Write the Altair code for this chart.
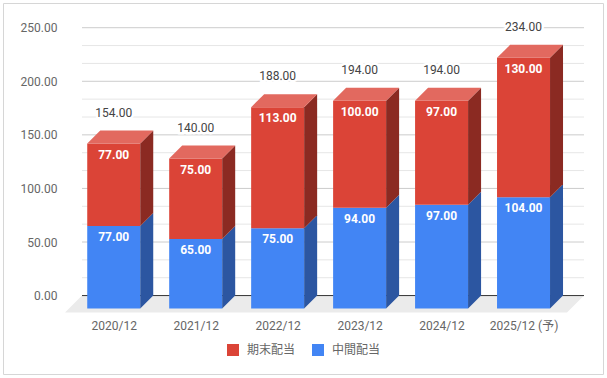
import altair as alt
import pandas as pd

CATS = ["2020/12", "2021/12", "2022/12", "2023/12", "2024/12", "2025/12 (予)"]
INTERIM = [77, 65, 75, 94, 97, 104]      # 中間配当
YEAREND = [77, 75, 113, 100, 97, 130]    # 期末配当
TOTAL = [154, 140, 188, 194, 194, 234]
SERIES = ["期末配当", "中間配当"]
Y_TICKS = [0, 50, 100, 150, 200, 250]

RED, RED_TOP, RED_SIDE = "#db4437", "#e2695f", "#8b2a22"
BLUE, BLUE_SIDE = "#4285f4", "#2c56a1"
FONT = "Roboto, 'Noto Sans CJK JP', sans-serif"

# geometry (styles)
W, H = 527, 300
PL, PT = 58, 17
X0, X1 = -0.68, 5.75
Y0, Y1 = -20, 260
PX_X = W / (X1 - X0)
PX_Y = H / (Y1 - Y0)
DEPTH = 13
DX = DEPTH / PX_X
DY = DEPTH / PX_Y
HW = 26.5 / PX_X
BACK_L = (82 - PL) / PX_X + X0
BACK_R = (584 - PL) / PX_X + X0
FLOOR_D = 17

front, side, top, tot = [], [], [], []
for i in range(len(CATS)):
    segs = [("中間配当", 0, INTERIM[i], INTERIM[i], BLUE_SIDE),
            ("期末配当", INTERIM[i], INTERIM[i] + YEAREND[i], YEAREND[i], RED_SIDE)]
    for s, b, t, v, sc in segs:
        front.append(dict(series=s, x=i - HW, x2=i + HW, y=b - DY, y2=t - DY,
                          cx=i, label=f"{v:.2f}"))
        sid = f"{i}-{s}"
        side.append(dict(id=sid, col=sc, sx=i + HW, lo=b - DY, hi=t - DY))
        side.append(dict(id=sid, col=sc, sx=i + HW + DX, lo=b, hi=t))
    top.append(dict(id=i, ty=TOTAL[i] - DY, tx=i - HW, tx2=i + HW))
    top.append(dict(id=i, ty=TOTAL[i], tx=i - HW + DX, tx2=i + HW + DX))
    tot.append(dict(cx=i, ty=TOTAL[i] - DY, label=f"{TOTAL[i]:.2f}"))

grid = []
for k in range(16):
    v = k * 50 / 3
    if k % 3 == 0:
        grid.append(dict(v=v, gl=BACK_L, gr=BACK_R, c="#cccccc" if k else "#333333"))
    else:
        grid.append(dict(v=v, gl=BACK_L, gr=BACK_R, c="#e6e6e6"))
floor = pd.DataFrame([
    dict(fy=0, fx=BACK_L, fx2=BACK_R),
    dict(fy=-FLOOR_D / PX_Y, fx=BACK_L - FLOOR_D / PX_X, fx2=BACK_R - FLOOR_D / PX_X),
])

XS = alt.Scale(domain=[X0, X1], nice=False, zero=False)
YS = alt.Scale(domain=[Y0, Y1], nice=False, zero=False)
label_expr = "[" + ",".join(f"'{c}'" for c in CATS) + "][datum.value]"
X_AX = alt.Axis(values=list(range(len(CATS))), labelExpr=label_expr, grid=False,
                ticks=False, domain=False, labelPadding=3, labelFontSize=12,
                labelColor="#666666", labelFont=FONT, title=None)
Y_AX = alt.Axis(values=Y_TICKS, format=".2f", grid=False, ticks=False, domain=False,
                labelPadding=1, labelFontSize=12, labelColor="#666666", labelFont=FONT,
                title=None)


def X(f):
    return alt.X(f, scale=XS, axis=X_AX, title=None)


def Y(f):
    return alt.Y(f, scale=YS, axis=Y_AX, title=None)


floor_l = alt.Chart(floor).mark_area(orient="horizontal", color="#ebebeb").encode(
    y=Y("fy:Q"), x=X("fx:Q"), x2="fx2:Q",
)
grid_l = alt.Chart(pd.DataFrame(grid)).mark_rule(strokeWidth=1).encode(
    y=Y("v:Q"), x=X("gl:Q"), x2="gr:Q",
    color=alt.Color("c:N", scale=None),
)
front_l = alt.Chart(pd.DataFrame(front)).mark_rect().encode(
    x=X("x:Q"), x2="x2:Q", y=Y("y:Q"), y2="y2:Q",
    color=alt.Color("series:N", scale=alt.Scale(domain=SERIES, range=[RED, BLUE]),
                    legend=alt.Legend(orient="none", legendX=169, legendY=327,
                                      direction="horizontal", title=None,
                                      symbolType="square", symbolSize=144,
                                      symbolStrokeWidth=0, labelFontSize=12,
                                      labelColor="#666666", labelFont=FONT,
                                      labelOffset=8, columnPadding=16, padding=0)),
)
side_l = alt.Chart(pd.DataFrame(side)).mark_area().encode(
    x=X("sx:Q"), y=Y("lo:Q"), y2="hi:Q",
    detail="id:N",
    color=alt.Color("col:N", scale=None),
)
top_l = alt.Chart(pd.DataFrame(top)).mark_area(orient="horizontal", color=RED_TOP).encode(
    y=Y("ty:Q"), x=X("tx:Q"), x2="tx2:Q",
    detail="id:N",
)
val_l = alt.Chart(pd.DataFrame(front)).mark_text(
    color="white", fontWeight="bold", fontSize=12, font=FONT, baseline="middle", dy=11
).encode(x=X("cx:Q"), y=Y("y2:Q"), text="label:N")
halo_l = alt.Chart(pd.DataFrame(tot)).mark_text(
    color="white", stroke="white", strokeWidth=5, fontSize=12, font=FONT,
    baseline="middle", dy=-31
).encode(x=X("cx:Q"), y=Y("ty:Q"), text="label:N")
tot_l = alt.Chart(pd.DataFrame(tot)).mark_text(
    color="#444444", fontSize=12, font=FONT, baseline="middle", dy=-31
).encode(x=X("cx:Q"), y=Y("ty:Q"), text="label:N")
border_l = alt.Chart(pd.DataFrame({"a": [0]})).mark_rect(
    fill=None, stroke="#d6d6d6", strokeWidth=1
).encode(
    x=alt.value(3.5 - PL), x2=alt.value(603.5 - PL),
    y=alt.value(3.5 - PT), y2=alt.value(374.5 - PT),
)

chart = alt.layer(
    border_l, floor_l, grid_l, front_l, side_l, top_l, val_l, halo_l, tot_l
).properties(
    width=W, height=H,
    autosize=alt.AutoSizeParams(type="none"),
    padding={"left": PL, "top": PT, "right": 607 - PL - W, "bottom": 378 - PT - H},
    background="white",
).configure_view(stroke=None)

chart.save("out.html", embed_options={"renderer": "svg", "actions": False})
